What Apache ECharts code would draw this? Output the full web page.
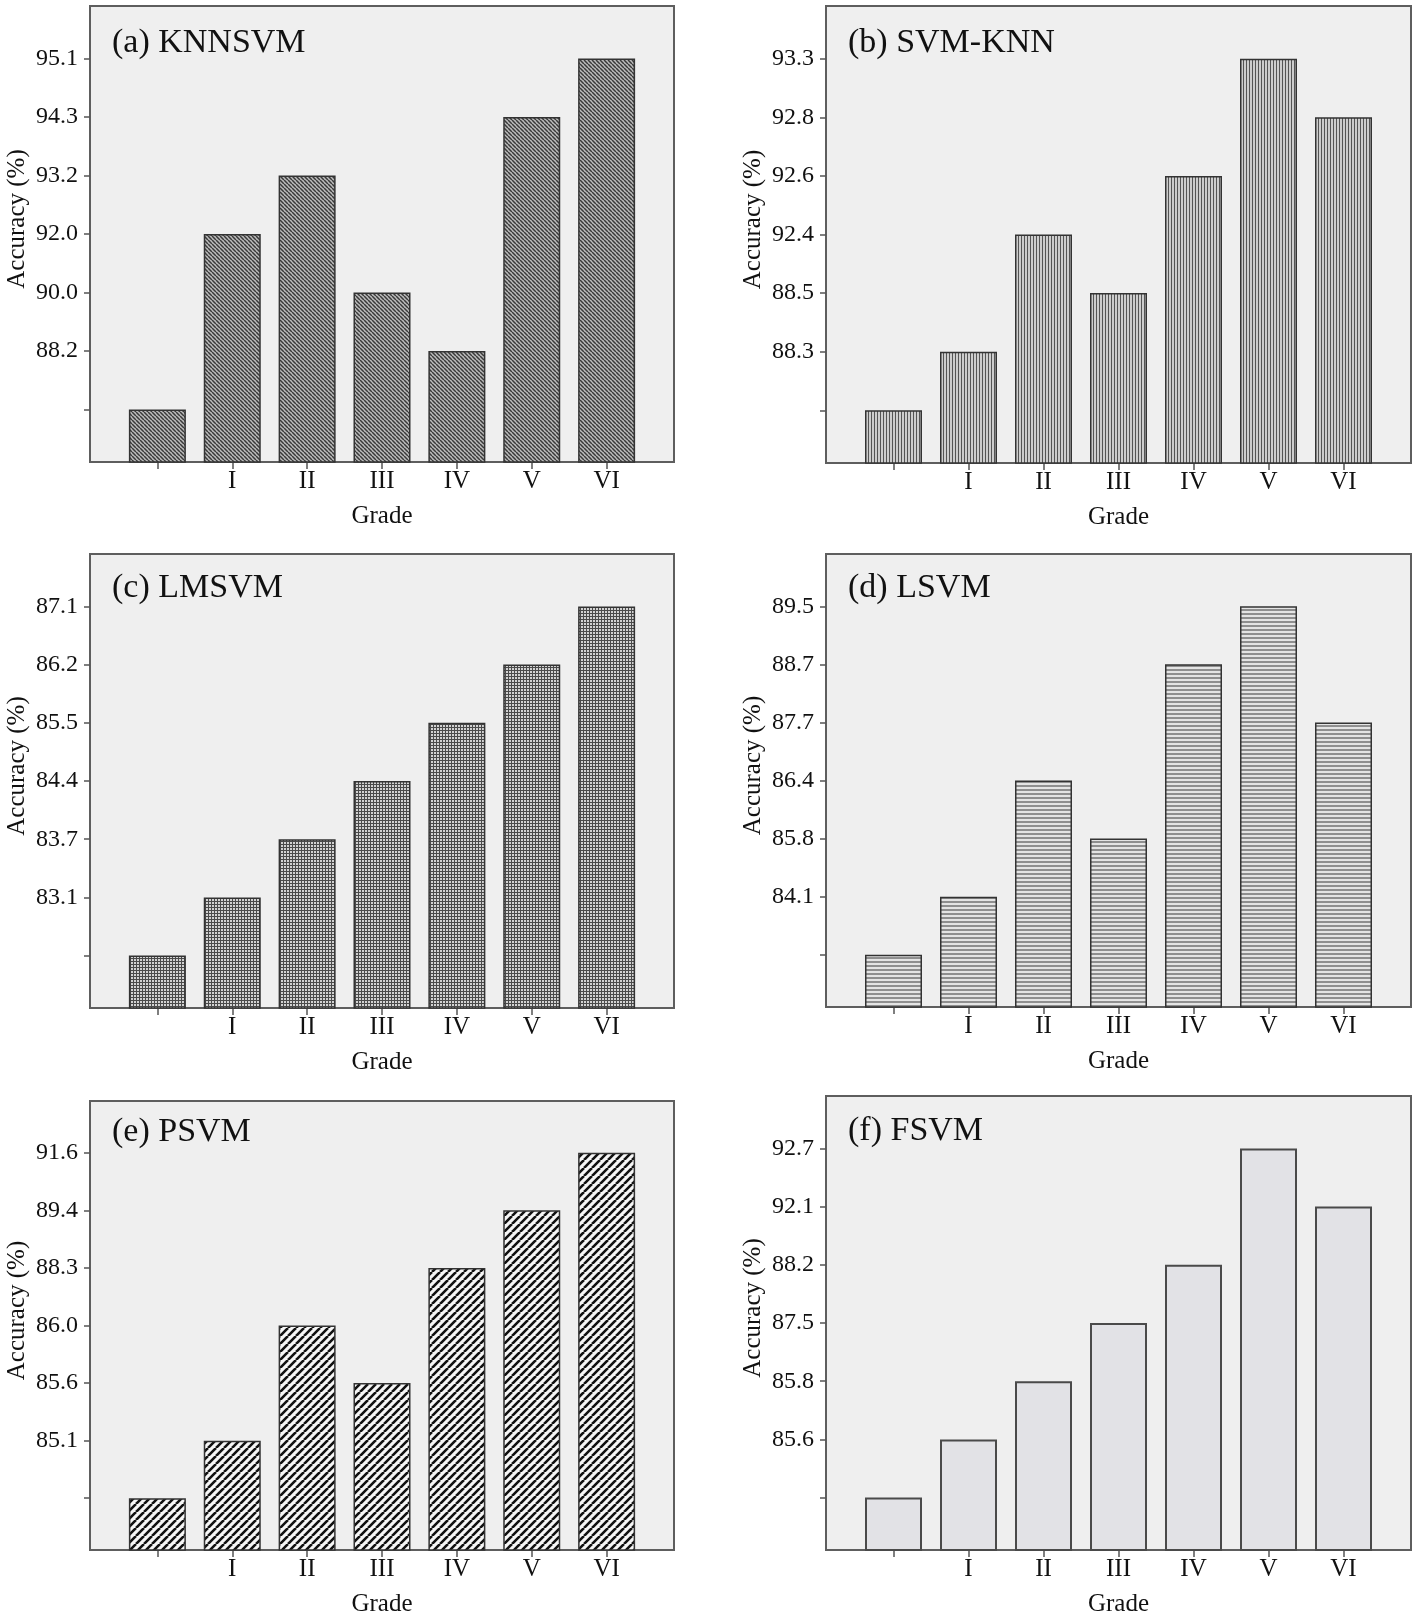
<!DOCTYPE html>
<html>
<head>
<meta charset="utf-8">
<script src="https://cdn.jsdelivr.net/npm/echarts@6/dist/echarts.min.js"></script>
<style>
  html, body { margin: 0; padding: 0; background: #fff; }
  #chart { width: 1418px; height: 1618px; }
</style>
</head>
<body>
<div id="chart"></div>
<script>
// x categories (first one has no label)
const grades = ['', 'I', 'II', 'III', 'IV', 'V', 'VI']

// y tick labels, bottom to top; the lowest tick carries no label
const ticksA = ['', '88.2', '90.0', '92.0', '93.2', '94.3', '95.1']
const ticksB = ['', '88.3', '88.5', '92.4', '92.6', '92.8', '93.3']
const ticksC = ['', '83.1', '83.7', '84.4', '85.5', '86.2', '87.1']
const ticksD = ['', '84.1', '85.8', '86.4', '87.7', '88.7', '89.5']
const ticksE = ['', '85.1', '85.6', '86.0', '88.3', '89.4', '91.6']
const ticksF = ['', '85.6', '85.8', '87.5', '88.2', '92.1', '92.7']

// accuracy per grade; bars reach the tick that shows the same value
const accA = ['', '92.0', '93.2', '90.0', '88.2', '94.3', '95.1']
const accB = ['', '88.3', '92.4', '88.5', '92.6', '93.3', '92.8']
const accC = ['', '83.1', '83.7', '84.4', '85.5', '86.2', '87.1']
const accD = ['', '84.1', '86.4', '85.8', '88.7', '89.5', '87.7']
const accE = ['', '85.1', '86.0', '85.6', '88.3', '89.4', '91.6']
const accF = ['', '85.6', '85.8', '87.5', '88.2', '92.7', '92.1']

const titles = ['(a) KNNSVM', '(b) SVM-KNN', '(c) LMSVM', '(d) LSVM', '(e) PSVM', '(f) FSVM']

// hatch fills drawn on small canvases
const hatch = (size, bg, fg, lw, draw) => {
    const c = document.createElement('canvas')
    c.width = c.height = size
    const ctx = c.getContext('2d')
    ctx.fillStyle = bg
    ctx.fillRect(0, 0, size, size)
    ctx.strokeStyle = fg
    ctx.lineWidth = lw
    ctx.beginPath()
    draw(ctx, size)
    ctx.stroke()
    return { image: c, repeat: 'repeat' }
}
const back = (ctx, s) => { for (const x of [-s, 0, s]) { ctx.moveTo(x, 0); ctx.lineTo(x + s, s) } }
const fwd = (ctx, s) => { for (const x of [-s, 0, s]) { ctx.moveTo(x, s); ctx.lineTo(x + s, 0) } }
const vert = (ctx, s) => { ctx.moveTo(s / 2, 0); ctx.lineTo(s / 2, s) }
const horz = (ctx, s) => { ctx.moveTo(0, s / 2); ctx.lineTo(s, s / 2) }
const cross = (ctx, s) => { vert(ctx, s); horz(ctx, s) }

const fills = [
    hatch(4, '#bcbcbc', '#3a3a3a', 1.5, back),
    hatch(3, '#cdcdcd', '#555', 1, vert),
    hatch(3, '#d2d2d2', '#4a4a4a', 1, cross),
    hatch(4, '#e4e4e4', '#6a6a6a', 1.4, horz),
    hatch(8, '#f6f6f6', '#111', 2.6, fwd),
    '#e2e2e6'
]

const panels = [
    { ticks: ticksA, acc: accA, left: 90, top: 6, width: 584, height: 456, tTop: 15 },
    { ticks: ticksB, acc: accB, left: 826, top: 6, width: 585, height: 457, tTop: 15 },
    { ticks: ticksC, acc: accC, left: 90, top: 554, width: 584, height: 454, tTop: 12 },
    { ticks: ticksD, acc: accD, left: 826, top: 554, width: 585, height: 453, tTop: 12 },
    { ticks: ticksE, acc: accE, left: 90, top: 1101, width: 584, height: 457, tTop: 9 },
    { ticks: ticksF, acc: accF, left: 826, top: 1096, width: 585, height: 457, tTop: 13 }
]

const font = '"Liberation Serif", "Times New Roman", serif'
const ink = '#111'
const levels = [1, 2, 3, 4, 5, 6, 7]
const xPos = [0, 1, 2, 3, 4, 5, 6]

const chart = echarts.init(document.getElementById('chart'))

const option = {
    animation: false,
    backgroundColor: '#fff',
    title: panels.map((p, i) => ({
        text: titles[i],
        left: p.left + 17,
        top: p.top + p.tTop,
        textStyle: { fontFamily: font, fontSize: 34, fontWeight: 'normal', color: ink, lineHeight: 34 }
    })),
    grid: panels.map(p => ({
        left: p.left, top: p.top, width: p.width, height: p.height,
        show: true,
        backgroundColor: '#efefef',
        borderColor: '#5e5e5e',
        borderWidth: 2
    })),
    xAxis: panels.map((p, i) => ({
        type: 'value',
        gridIndex: i,
        min: -0.9,
        max: 6.9,
        name: 'Grade',
        nameLocation: 'middle',
        nameGap: 42,
        nameTextStyle: { fontFamily: font, fontSize: 25, color: ink },
        axisLine: { show: false, onZero: false },
        splitLine: { show: false },
        axisTick: { show: true, customValues: xPos, length: 7, lineStyle: { color: '#555', width: 1.5 } },
        axisLabel: {
            customValues: xPos,
            formatter: v => grades[Math.round(v)],
            margin: 7,
            fontFamily: font, fontSize: 25, color: ink
        }
    })),
    yAxis: panels.map((p, i) => ({
        type: 'value',
        gridIndex: i,
        min: 0.1,
        max: 7.9,
        name: 'Accuracy (%)',
        nameLocation: 'middle',
        nameRotate: 90,
        nameGap: 60,
        nameTextStyle: { fontFamily: font, fontSize: 25, color: ink, padding: [0, 0, 0, 30] },
        axisLine: { show: false, onZero: false },
        splitLine: { show: false },
        axisTick: { show: true, customValues: levels, length: 6, lineStyle: { color: '#555', width: 1.5 } },
        axisLabel: {
            customValues: levels,
            formatter: v => p.ticks[Math.round(v) - 1],
            margin: 12,
            fontFamily: font, fontSize: 24, color: ink
        }
    })),
    series: panels.map((p, i) => ({
        type: 'bar',
        xAxisIndex: i,
        yAxisIndex: i,
        barWidth: 57,
        data: p.acc.map((a, j) => [j, p.ticks.indexOf(a) + 1]),
        itemStyle: {
            color: fills[i],
            borderColor: i === 5 ? '#4a4a4a' : '#333',
            borderWidth: i === 5 ? 2 : 1.5
        }
    }))
}

chart.setOption(option)
</script>
</body>
</html>
